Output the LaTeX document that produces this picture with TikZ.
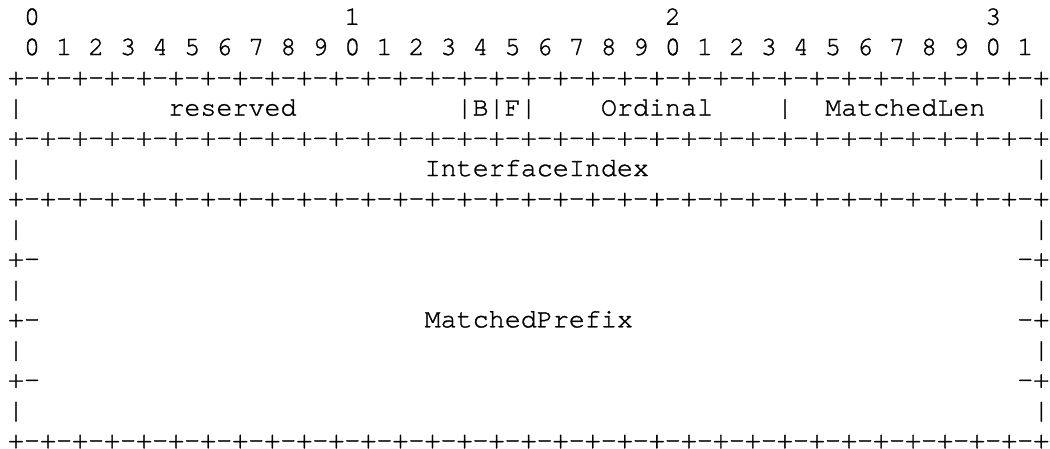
\documentclass[tikz,border=0pt]{standalone}
\usepackage{fontspec}
\newfontfamily\cour{texgyrecursor-regular}[Extension=.otf,FakeBold=1.2]
\newlength\cw
\setlength\cw{16.02pt}
\makeatletter
% one character per grid cell
\newcommand\spell[1]{\@tfor\ch:=#1\do{\makebox[\cw]{\ch}}}
\makeatother
\tikzset{
  ascii/.style={inner sep=0pt,font=\cour\fontsize{26.7}{30}\selectfont},
  cell/.style={ascii,anchor=base},
  word/.style={ascii,anchor=base west}
}
\begin{document}
\begin{tikzpicture}[x=16.02pt,y=-30.25pt]
\useasboundingbox (-16pt,24.8pt) rectangle (1034pt,-424.2pt);
% bit ruler
\foreach \t/\c in {0/1,1/21,2/41,3/61}
  \node[cell] (ten\t) at (\c,0) {\t};
\foreach \b in {0,...,31} {
  \pgfmathtruncatemacro\d{mod(\b,10)}
  \pgfmathtruncatemacro\c{2*\b+1}
  \node[cell] (bit\b) at (\c,1) {\d};
}
% border rows
\foreach \r in {2,4,6,14}
  \foreach \c in {0,...,64} {
    \ifodd\c \node[cell] (b\r-\c) at (\c,\r) {-};
    \else \node[cell] (b\r-\c) at (\c,\r) {+};
    \fi
  }
% side bars
\foreach \r in {3,5,7,9,11,13} {
  \node[cell] (l\r) at (0,\r) {|};
  \node[cell] (r\r) at (64,\r) {|};
}
\foreach \r in {8,10,12} {
  \node[cell] (lp\r) at (0,\r) {+};
  \node[cell] (lm\r) at (1,\r) {-};
  \node[cell] (rm\r) at (63,\r) {-};
  \node[cell] (rp\r) at (64,\r) {+};
}
% first word
\node[word] (reserved) at (9.5,3) {\spell{reserved}};
\foreach \c in {28,30,32,48}
  \node[cell] (sep\c) at (\c,3) {|};
\node[cell] (bflag) at (29,3) {B};
\node[cell] (fflag) at (31,3) {F};
\node[word] (ordinal) at (36.5,3) {\spell{Ordinal}};
\node[word] (matchedlen) at (50.5,3) {\spell{MatchedLen}};
% second word
\node[word] (ifindex) at (25.5,5) {\spell{InterfaceIndex}};
% prefix
\node[word] (prefix) at (25.5,10) {\spell{MatchedPrefix}};
\end{tikzpicture}
\end{document}
